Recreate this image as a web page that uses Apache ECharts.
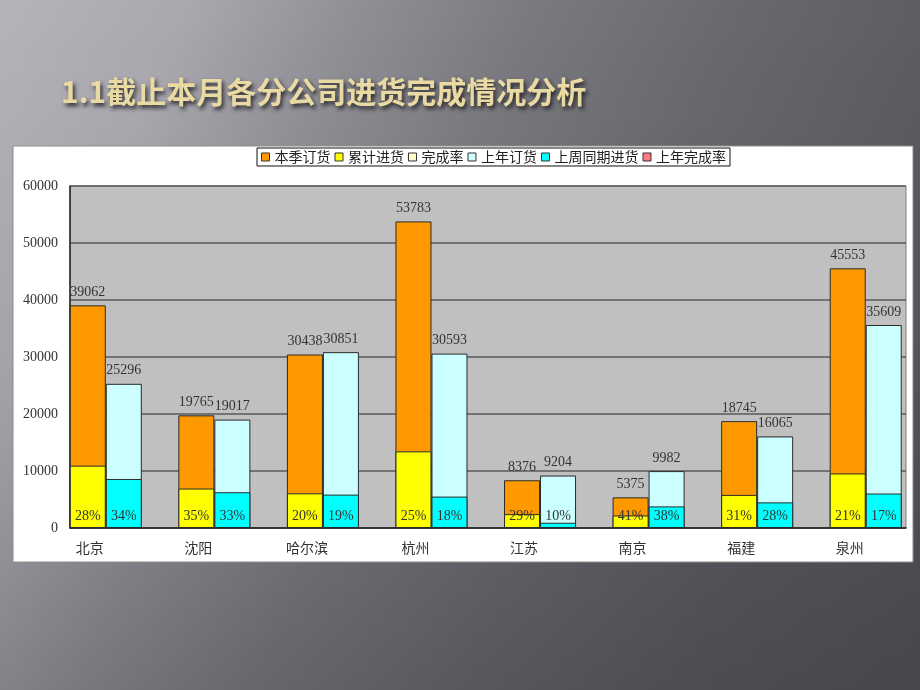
<!DOCTYPE html>
<html>
<head>
<meta charset="utf-8">
<script src="https://cdn.jsdelivr.net/npm/echarts@6/dist/echarts.min.js"></script>
<style>
html,body{margin:0;padding:0;}
body{width:920px;height:690px;overflow:hidden;
background:
 linear-gradient(180deg,rgba(0,0,0,0) 0%,rgba(0,0,0,0.04) 50%,rgba(0,0,0,0.16) 100%),
 linear-gradient(112deg,#b6b4bb 0%,#aaa8af 16%,#908f95 30%,#7a797f 45%,#69686e 62%,#5c5b61 80%,#545359 100%);}
#chart{width:920px;height:690px;}
</style>
</head>
<body>
<div id="chart"></div>
<script>
const categories = ['北京','沈阳','哈尔滨','杭州','江苏','南京','福建','泉州'];
const orderThisSeason = [39062,19765,30438,53783,8376,5375,18745,45553];
const cumulativeIn = [10940,6920,6090,13450,2430,2200,5810,9570];
const completionRate = [28,35,20,25,29,41,31,21];
const lastYearOrder = [25296,19017,30851,30593,9204,9982,16065,35609];
const lastYearSamePeriodIn = [8600,6280,5860,5510,920,3790,4500,6050];
const lastYearRate = [34,33,19,18,10,38,28,17];
const yMin = 0, yMax = 60000, yStep = 10000;

const serif = "'Liberation Serif','DejaVu Serif','Noto Sans CJK SC'";
const cjk = "'Noto Sans CJK SC'";
const border = {borderColor:'#2a2a2a', borderWidth:1};

const chart = echarts.init(document.getElementById('chart'));
chart.setOption({
  backgroundColor:'transparent',
  animation:false,
  title:{
    text:'1.1截止本月各分公司进货完成情况分析',
    left:56, top:72,
    textStyle:{color:'#e9d9a2', fontSize:30, fontWeight:'bold', fontFamily:cjk,
      textShadowColor:'rgba(20,20,25,0.85)', textShadowBlur:4, textShadowOffsetX:2, textShadowOffsetY:3}
  },
  graphic:[{type:'rect', z:-10, shape:{x:13,y:146,width:900,height:416},
    style:{fill:'#ffffff', stroke:'#8c8c8c', lineWidth:1}}],
  legend:{
    data:['本季订货','累计进货','完成率','上年订货','上周同期进货','上年完成率'],
    left:257, top:148, backgroundColor:'#fff', borderColor:'#111', borderWidth:1,
    padding:[2,4], itemGap:4, itemWidth:8, itemHeight:8, icon:'rect',
    itemStyle:{borderColor:'#333', borderWidth:1},
    textStyle:{fontSize:14, color:'#222', fontFamily:cjk}
  },
  grid:[
    {left:70, top:186, width:836, height:342, show:true, backgroundColor:'#c0c0c0', borderColor:'#7f7f7f', borderWidth:1},
    {left:51.5, top:186, width:872, height:342, show:false}
  ],
  xAxis:[
    {gridIndex:0, type:'category', data:categories, axisLabel:{show:false}, axisTick:{show:false},
      axisLine:{show:true, lineStyle:{color:'#222', width:1.5}}},
    {gridIndex:1, type:'category', data:categories, axisTick:{show:false}, axisLine:{show:false},
      axisLabel:{fontSize:14, color:'#333', fontFamily:cjk, margin:13, padding:[0,32,0,0]}},
    {gridIndex:1, type:'category', data:categories, show:false, position:'top'}
  ],
  yAxis:[
    {gridIndex:0, type:'value', min:yMin, max:yMax, interval:yStep,
      axisLine:{show:true, lineStyle:{color:'#222', width:1.5}}, axisTick:{show:false},
      splitLine:{show:true, lineStyle:{color:'#5a5a5a', width:1.5}},
      axisLabel:{fontSize:14, color:'#333', fontFamily:serif, margin:12, formatter:v=>String(v)}},
    {gridIndex:1, type:'value', min:yMin, max:yMax, interval:yStep, show:false, splitLine:{show:false}},
    {gridIndex:1, type:'value', min:0, max:100, show:false, splitLine:{show:false}}
  ],
  series:[
    {name:'本季订货', type:'bar', xAxisIndex:1, yAxisIndex:1, data:orderThisSeason,
      barWidth:36, barGap:'0%', itemStyle:Object.assign({color:'#FF9900'}, border),
      label:{show:true, position:'top', distance:6, fontSize:14, color:'#333', fontFamily:serif}},
    {name:'上年订货', type:'bar', xAxisIndex:1, yAxisIndex:1, data:lastYearOrder,
      barWidth:36, barGap:'0%', itemStyle:Object.assign({color:'#CCFFFF'}, border),
      label:{show:true, position:'top', distance:6, fontSize:14, color:'#333', fontFamily:serif}},
    {name:'累计进货', type:'bar', xAxisIndex:2, yAxisIndex:1, data:cumulativeIn,
      barWidth:36, barGap:'0%', itemStyle:Object.assign({color:'#FFFF00'}, border),
      label:{show:true, position:'insideBottom', distance:5, fontSize:14, color:'#333', fontFamily:serif,
        formatter:p=>completionRate[p.dataIndex]+'%'}},
    {name:'上周同期进货', type:'bar', xAxisIndex:2, yAxisIndex:1, data:lastYearSamePeriodIn,
      barWidth:36, barGap:'0%', itemStyle:Object.assign({color:'#00FFFF'}, border),
      label:{show:true, position:'insideBottom', distance:5, fontSize:14, color:'#333', fontFamily:serif,
        formatter:p=>lastYearRate[p.dataIndex]+'%'}},
    {name:'完成率', type:'line', xAxisIndex:2, yAxisIndex:2, data:completionRate,
      symbol:'none', lineStyle:{opacity:0}, itemStyle:{color:'#FFFFCC'}, silent:true},
    {name:'上年完成率', type:'line', xAxisIndex:2, yAxisIndex:2, data:lastYearRate,
      symbol:'none', lineStyle:{opacity:0}, itemStyle:{color:'#FF7C80'}, silent:true}
  ]
});
</script>
</body>
</html>
